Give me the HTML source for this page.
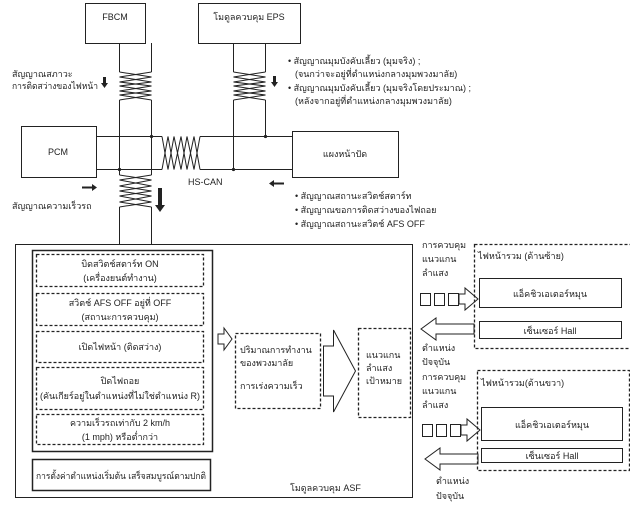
<!DOCTYPE html>
<html><head><meta charset="utf-8"><style>
html,body{margin:0;padding:0;background:#fff;}
svg text{font-family:"Liberation Sans","Noto Sans CJK SC",sans-serif;font-size:9px;fill:#222;}
</style></head><body>
<svg width="630" height="508" viewBox="0 0 630 508" xmlns="http://www.w3.org/2000/svg">
<g fill="none" stroke="#222" stroke-width="1">
<rect x="85.5" y="3.5" width="60" height="40"/>
<rect x="198.5" y="3.5" width="102" height="40"/>
<rect x="21.5" y="126.5" width="75" height="51"/>
<rect x="292.5" y="131.5" width="106" height="46"/>
<path d="M119.5 43V72 M151.5 43V72 M119.5 100V175 M151.5 100V175 M119.5 207V244 M151.5 207V244"/>
<path d="M119.5 72 L151.5 77 L119.5 82 L151.5 86 L119.5 91 L151.5 95 L119.5 100 M151.5 72 L119.5 77 L151.5 82 L119.5 86 L151.5 91 L119.5 95 L151.5 100"/>
<path d="M119.5 175 L151.5 180 L119.5 186 L151.5 191 L119.5 196 L151.5 202 L119.5 207 M151.5 175 L119.5 180 L151.5 186 L119.5 191 L151.5 196 L119.5 202 L151.5 207"/>
<path d="M233.5 43V72 M265.5 43V72 M233.5 100V169 M265.5 100V137"/>
<path d="M233.5 72 L265.5 77 L233.5 82 L265.5 86 L233.5 91 L265.5 95 L233.5 100 M265.5 72 L233.5 77 L265.5 82 L233.5 86 L265.5 91 L233.5 95 L265.5 100"/>
<path d="M96 136.5H162 M200 136.5H292 M96 169.5H162 M200 169.5H292"/>
<path d="M162 136.5 L168 169.5 L174 136.5 L181 169.5 L187 136.5 L194 169.5 L200 136.5 M162 169.5 L168 136.5 L174 169.5 L181 136.5 L187 169.5 L194 136.5 L200 169.5"/>
</g>
<g fill="#222">
<circle cx="151.5" cy="136.5" r="1.6"/><circle cx="119.5" cy="169.5" r="1.6"/>
<circle cx="265.5" cy="136.5" r="1.6"/><circle cx="233.5" cy="169.5" r="1.6"/>
<path d="M103 77h3v6h2l-3.5 5l-3.5-5h2z"/>
<path d="M273 76h3v6h2l-3.5 5l-3.5-5h2z"/>
<path d="M158 188h4v17h3l-5 7l-5-7h3z"/>
<path d="M82 186.5h10v-2.5l5 3.5l-5 3.5v-2.5h-10z"/>
<path d="M284 182.5h-10v-2.5l-5 3.5l5 3.5v-2.5h10z"/>
</g>
<text x="115" y="20" text-anchor="middle" font-size="10">FBCM</text>
<text x="249" y="20" text-anchor="middle">โมดูลควบคุม EPS</text>
<text x="58" y="155" text-anchor="middle" font-size="10">PCM</text>
<text x="345" y="157" text-anchor="middle">แผงหน้าปัด</text>
<text x="188" y="185" font-size="10">HS-CAN</text>
<text x="12" y="77">สัญญาณสภาวะ</text>
<text x="12" y="89" textLength="86" lengthAdjust="spacingAndGlyphs">การติดสว่างของไฟหน้า</text>
<text x="12" y="209">สัญญาณความเร็วรถ</text>
<text x="288" y="64">• สัญญาณมุมบังคับเลี้ยว (มุมจริง) ;</text>
<text x="295" y="77">(จนกว่าจะอยู่ที่ตำแหน่งกลางมุมพวงมาลัย)</text>
<text x="288" y="91">• สัญญาณมุมบังคับเลี้ยว (มุมจริงโดยประมาณ) ;</text>
<text x="295" y="104">(หลังจากอยู่ที่ตำแหน่งกลางมุมพวงมาลัย)</text>
<text x="295" y="199">• สัญญาณสถานะสวิตช์สตาร์ท</text>
<text x="295" y="213">• สัญญาณขอการติดสว่างของไฟถอย</text>
<text x="295" y="227">• สัญญาณสถานะสวิตช์ AFS OFF</text>

<g fill="none" stroke="#222">
<rect x="15.5" y="244.5" width="397" height="253"/>
<rect x="32.5" y="250.5" width="180" height="201" stroke-width="1.5"/>
<rect x="32.5" y="459.5" width="178" height="31" stroke-width="1.5"/>
<g stroke-dasharray="3,2" stroke-width="1.3">
<rect x="36.5" y="254.5" width="167" height="32"/>
<rect x="36.5" y="293.5" width="167" height="32"/>
<rect x="36.5" y="331.5" width="167" height="31"/>
<rect x="36.5" y="367.5" width="167" height="42"/>
<rect x="36.5" y="414.5" width="167" height="30"/>
<rect x="235.5" y="333.5" width="85" height="75"/>
<rect x="358.5" y="328.5" width="52" height="89"/>
<rect x="474.5" y="244.5" width="160" height="104"/>
<rect x="477.5" y="370.5" width="152" height="100"/>
</g>
<path d="M218 334h6v-6l8 11l-8 11v-6h-6z"/>
<path d="M323.5 346h10v-16l22 41l-22 41v-16h-10z"/>
<rect x="479.5" y="278.5" width="142" height="29"/>
<rect x="479.5" y="321.5" width="142" height="17"/>
<rect x="481.5" y="407.5" width="141" height="33"/>
<rect x="481.5" y="448.5" width="141" height="14"/>
<rect x="420.5" y="293.5" width="10" height="12"/><rect x="434.5" y="293.5" width="10" height="12"/><rect x="448.5" y="293.5" width="10" height="12"/>
<path d="M459 294h6v-6l13 11l-13 11v-6h-6z"/>
<path d="M474 324h-38v-6l-15 11l15 11v-6h38z"/>
<rect x="422.5" y="424.5" width="10" height="12"/><rect x="436.5" y="424.5" width="10" height="12"/><rect x="450.5" y="424.5" width="10" height="12"/>
<path d="M461 425h6v-6l13 11l-13 11v-6h-6z"/>
<path d="M478 454h-38v-6l-15 11l15 11v-6h38z"/>
</g>
<g text-anchor="middle">
<text x="120" y="267">บิดสวิตช์สตาร์ท ON</text>
<text x="120" y="281">(เครื่องยนต์ทำงาน)</text>
<text x="120" y="306">สวิตช์ AFS OFF อยู่ที่ OFF</text>
<text x="120" y="320">(สถานะการควบคุม)</text>
<text x="120" y="350">เปิดไฟหน้า (ติดสว่าง)</text>
<text x="120" y="384">ปิดไฟถอย</text>
<text x="120" y="399" textLength="160" lengthAdjust="spacingAndGlyphs">(คันเกียร์อยู่ในตำแหน่งที่ไม่ใช่ตำแหน่ง R)</text>
<text x="120" y="426">ความเร็วรถเท่ากับ 2 km/h</text>
<text x="120" y="440">(1 mph) หรือต่ำกว่า</text>
<text x="121" y="479" textLength="170" lengthAdjust="spacingAndGlyphs">การตั้งค่าตำแหน่งเริ่มต้น เสร็จสมบูรณ์ตามปกติ</text>
<text x="550" y="297">แอ็คชิวเอเตอร์หมุน</text>
<text x="550" y="334">เซ็นเซอร์ Hall</text>
<text x="552" y="428">แอ็คชิวเอเตอร์หมุน</text>
<text x="552" y="459">เซ็นเซอร์ Hall</text>
</g>
<text x="240" y="353">ปริมาณการทำงาน</text>
<text x="240" y="366">ของพวงมาลัย</text>
<text x="240" y="389">การเร่งความเร็ว</text>
<text x="366" y="358">แนวแกน</text>
<text x="366" y="371">ลำแสง</text>
<text x="366" y="384">เป้าหมาย</text>
<text x="290" y="491">โมดูลควบคุม ASF</text>
<text x="478" y="259">ไฟหน้ารวม (ด้านซ้าย)</text>
<text x="481" y="386">ไฟหน้ารวม(ด้านขวา)</text>
<text x="422" y="248">การควบคุม</text>
<text x="422" y="262">แนวแกน</text>
<text x="422" y="276">ลำแสง</text>
<text x="422" y="351">ตำแหน่ง</text>
<text x="422" y="365">ปัจจุบัน</text>
<text x="422" y="380">การควบคุม</text>
<text x="422" y="394">แนวแกน</text>
<text x="422" y="408">ลำแสง</text>
<text x="436" y="484">ตำแหน่ง</text>
<text x="436" y="499">ปัจจุบัน</text>
</svg>
</body></html>
